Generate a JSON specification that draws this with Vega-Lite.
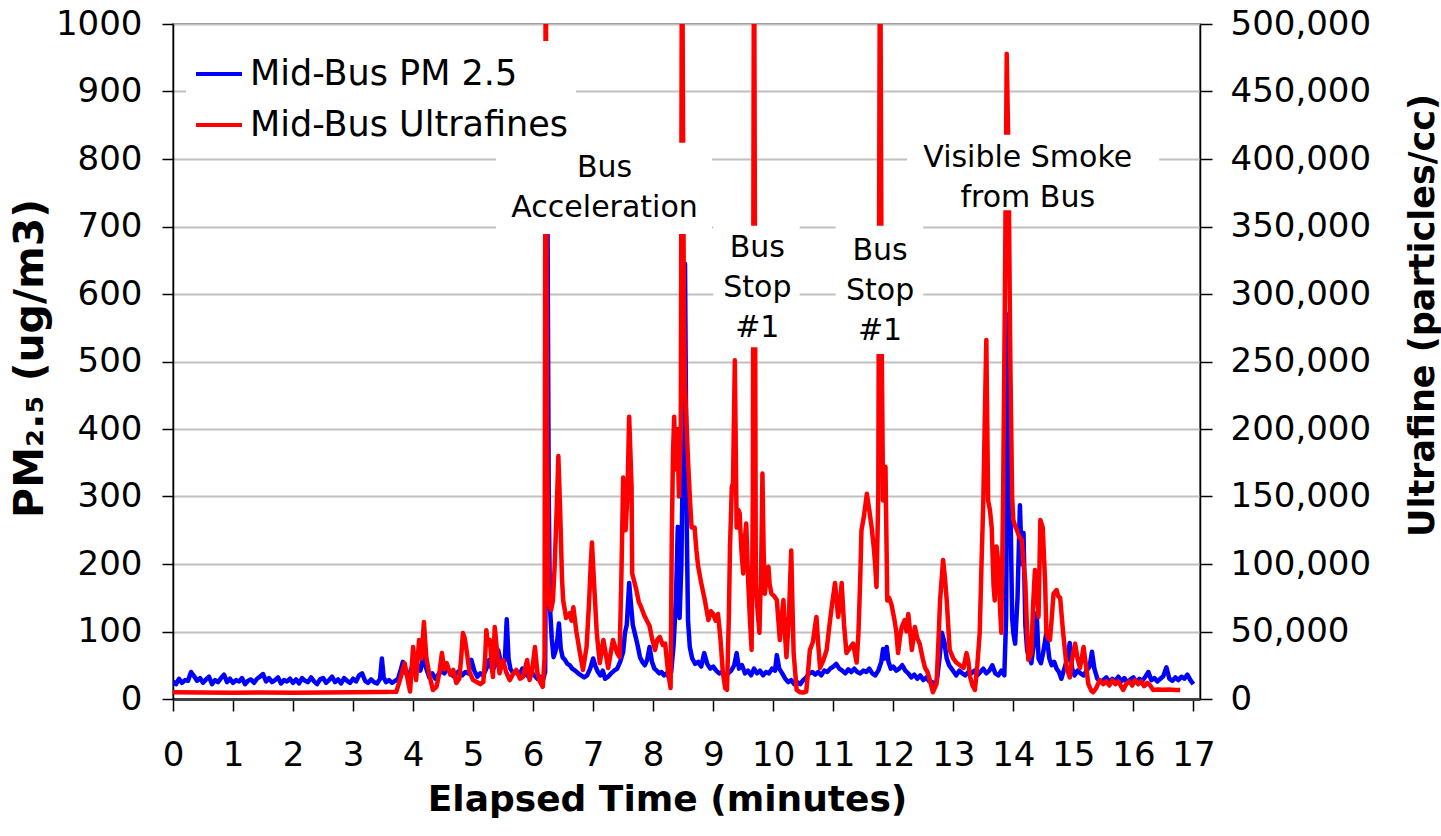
{
  "$schema": "https://vega.github.io/schema/vega-lite/v6.json",
  "width": 1027,
  "height": 675,
  "autosize": {"type": "none"},
  "padding": {"left": 173, "top": 24, "right": 241, "bottom": 137},
  "background": "white",
  "config": {
    "font": "DejaVu Sans",
    "view": {"stroke": "#808080", "strokeWidth": 2},
    "axis": {"labelFont": "DejaVu Sans", "titleFont": "DejaVu Sans", "labelColor": "black", "titleColor": "black"}
  },
  "datasets": {
    "pm": [
      {"t":0.00,"v":26},{"t":0.05,"v":22},{"t":0.10,"v":30},{"t":0.15,"v":24},{"t":0.20,"v":28},{"t":0.25,"v":27},{"t":0.30,"v":40},{"t":0.35,"v":34},{"t":0.40,"v":27},{"t":0.45,"v":31},
      {"t":0.50,"v":24},{"t":0.55,"v":29},{"t":0.60,"v":33},{"t":0.65,"v":22},{"t":0.70,"v":28},{"t":0.75,"v":25},{"t":0.80,"v":31},{"t":0.85,"v":36},{"t":0.90,"v":25},{"t":0.95,"v":30},
      {"t":1.00,"v":24},{"t":1.05,"v":28},{"t":1.10,"v":26},{"t":1.15,"v":31},{"t":1.20,"v":22},{"t":1.25,"v":27},{"t":1.30,"v":29},{"t":1.35,"v":24},{"t":1.40,"v":30},{"t":1.45,"v":33},
      {"t":1.50,"v":37},{"t":1.55,"v":26},{"t":1.60,"v":31},{"t":1.65,"v":25},{"t":1.70,"v":28},{"t":1.75,"v":32},{"t":1.80,"v":23},{"t":1.85,"v":28},{"t":1.90,"v":26},{"t":1.95,"v":30},
      {"t":2.00,"v":24},{"t":2.05,"v":29},{"t":2.10,"v":23},{"t":2.15,"v":31},{"t":2.20,"v":27},{"t":2.25,"v":25},{"t":2.30,"v":32},{"t":2.35,"v":26},{"t":2.40,"v":22},{"t":2.45,"v":29},
      {"t":2.50,"v":31},{"t":2.55,"v":24},{"t":2.60,"v":28},{"t":2.65,"v":33},{"t":2.70,"v":25},{"t":2.75,"v":29},{"t":2.80,"v":23},{"t":2.85,"v":31},{"t":2.90,"v":27},{"t":2.95,"v":24},
      {"t":3.00,"v":30},{"t":3.05,"v":26},{"t":3.10,"v":35},{"t":3.15,"v":38},{"t":3.20,"v":27},{"t":3.25,"v":24},{"t":3.30,"v":29},{"t":3.35,"v":25},{"t":3.40,"v":23},{"t":3.45,"v":30},
      {"t":3.48,"v":60},{"t":3.51,"v":32},{"t":3.55,"v":25},{"t":3.60,"v":28},{"t":3.65,"v":24},{"t":3.70,"v":27},
      {"t":3.75,"v":30},{"t":3.80,"v":45},{"t":3.83,"v":55},{"t":3.87,"v":40},{"t":3.92,"v":33},{"t":3.97,"v":45},{"t":4.02,"v":38},{"t":4.07,"v":50},{"t":4.12,"v":42},{"t":4.17,"v":62},
      {"t":4.22,"v":45},{"t":4.27,"v":32},{"t":4.32,"v":38},{"t":4.37,"v":30},{"t":4.42,"v":36},{"t":4.47,"v":42},{"t":4.52,"v":38},{"t":4.57,"v":45},{"t":4.62,"v":40},{"t":4.67,"v":34},
      {"t":4.72,"v":38},{"t":4.77,"v":42},{"t":4.82,"v":35},{"t":4.87,"v":40},{"t":4.92,"v":38},{"t":4.97,"v":58},{"t":5.02,"v":42},{"t":5.07,"v":33},{"t":5.12,"v":38},{"t":5.17,"v":35},
      {"t":5.22,"v":45},{"t":5.27,"v":58},{"t":5.32,"v":42},{"t":5.37,"v":50},{"t":5.42,"v":72},{"t":5.46,"v":55},{"t":5.50,"v":48},{"t":5.53,"v":60},{"t":5.56,"v":118},{"t":5.59,"v":60},
      {"t":5.62,"v":45},{"t":5.67,"v":38},{"t":5.72,"v":42},{"t":5.77,"v":35},{"t":5.82,"v":45},{"t":5.87,"v":38},{"t":5.92,"v":33},{"t":5.97,"v":40},{"t":6.02,"v":35},{"t":6.07,"v":30},
      {"t":6.12,"v":33},{"t":6.17,"v":30},{"t":6.20,"v":40},{"t":6.22,"v":400},{"t":6.24,"v":700},{"t":6.26,"v":300},{"t":6.28,"v":136},{"t":6.31,"v":90},{"t":6.34,"v":62},{"t":6.37,"v":70},
      {"t":6.40,"v":85},{"t":6.43,"v":112},{"t":6.46,"v":75},{"t":6.49,"v":62},{"t":6.53,"v":58},{"t":6.57,"v":52},{"t":6.61,"v":50},{"t":6.65,"v":45},{"t":6.70,"v":42},{"t":6.75,"v":38},
      {"t":6.80,"v":35},{"t":6.85,"v":32},{"t":6.90,"v":35},{"t":6.95,"v":45},{"t":7.00,"v":60},{"t":7.04,"v":48},{"t":7.08,"v":40},{"t":7.12,"v":35},{"t":7.16,"v":42},{"t":7.20,"v":30},
      {"t":7.25,"v":33},{"t":7.30,"v":38},{"t":7.35,"v":42},{"t":7.40,"v":45},{"t":7.45,"v":55},{"t":7.50,"v":70},{"t":7.53,"v":98},{"t":7.56,"v":110},{"t":7.60,"v":172},{"t":7.63,"v":140},
      {"t":7.66,"v":110},{"t":7.70,"v":95},{"t":7.74,"v":80},{"t":7.78,"v":62},{"t":7.82,"v":55},{"t":7.86,"v":50},{"t":7.90,"v":58},{"t":7.94,"v":77},{"t":7.98,"v":55},{"t":8.02,"v":45},
      {"t":8.06,"v":42},{"t":8.10,"v":38},{"t":8.14,"v":40},{"t":8.18,"v":35},{"t":8.22,"v":38},{"t":8.26,"v":33},{"t":8.30,"v":40},{"t":8.34,"v":80},{"t":8.38,"v":150},{"t":8.41,"v":255},
      {"t":8.44,"v":120},{"t":8.47,"v":200},{"t":8.50,"v":400},{"t":8.53,"v":645},{"t":8.56,"v":250},{"t":8.58,"v":117},{"t":8.61,"v":77},{"t":8.65,"v":60},{"t":8.70,"v":52},{"t":8.75,"v":55},
      {"t":8.80,"v":48},{"t":8.85,"v":68},{"t":8.90,"v":52},{"t":8.95,"v":45},{"t":9.00,"v":48},{"t":9.05,"v":42},{"t":9.10,"v":38},{"t":9.15,"v":40},{"t":9.20,"v":35},{"t":9.25,"v":38},
      {"t":9.30,"v":42},{"t":9.35,"v":50},{"t":9.39,"v":68},{"t":9.43,"v":45},{"t":9.48,"v":50},{"t":9.53,"v":38},{"t":9.58,"v":42},{"t":9.63,"v":35},{"t":9.68,"v":45},{"t":9.73,"v":38},
      {"t":9.78,"v":42},{"t":9.83,"v":35},{"t":9.88,"v":40},{"t":9.93,"v":38},{"t":9.98,"v":45},{"t":10.03,"v":42},{"t":10.06,"v":65},{"t":10.10,"v":45},{"t":10.15,"v":38},{"t":10.20,"v":30},
      {"t":10.25,"v":25},{"t":10.30,"v":28},{"t":10.35,"v":22},{"t":10.40,"v":25},{"t":10.45,"v":22},{"t":10.50,"v":28},{"t":10.55,"v":32},{"t":10.60,"v":38},{"t":10.65,"v":40},{"t":10.70,"v":36},
      {"t":10.75,"v":40},{"t":10.80,"v":35},{"t":10.85,"v":42},{"t":10.90,"v":40},{"t":10.95,"v":45},{"t":11.00,"v":48},{"t":11.05,"v":52},{"t":11.10,"v":45},{"t":11.15,"v":42},{"t":11.20,"v":38},
      {"t":11.25,"v":44},{"t":11.30,"v":40},{"t":11.35,"v":45},{"t":11.40,"v":40},{"t":11.45,"v":38},{"t":11.50,"v":42},{"t":11.55,"v":40},{"t":11.60,"v":45},{"t":11.65,"v":38},{"t":11.70,"v":35},
      {"t":11.75,"v":42},{"t":11.80,"v":55},{"t":11.83,"v":74},{"t":11.86,"v":60},{"t":11.89,"v":77},{"t":11.92,"v":55},{"t":11.96,"v":45},{"t":12.00,"v":48},{"t":12.05,"v":42},{"t":12.10,"v":45},
      {"t":12.15,"v":50},{"t":12.20,"v":42},{"t":12.25,"v":38},{"t":12.30,"v":32},{"t":12.35,"v":36},{"t":12.40,"v":30},{"t":12.45,"v":35},{"t":12.50,"v":28},{"t":12.55,"v":32},{"t":12.60,"v":26},
      {"t":12.65,"v":25},{"t":12.70,"v":20},{"t":12.73,"v":30},{"t":12.77,"v":60},{"t":12.81,"v":98},{"t":12.85,"v":85},{"t":12.89,"v":60},{"t":12.93,"v":50},{"t":12.97,"v":45},{"t":13.01,"v":40},
      {"t":13.05,"v":35},{"t":13.10,"v":42},{"t":13.15,"v":38},{"t":13.20,"v":35},{"t":13.25,"v":40},{"t":13.30,"v":38},{"t":13.35,"v":42},{"t":13.40,"v":35},{"t":13.45,"v":40},{"t":13.50,"v":45},
      {"t":13.55,"v":38},{"t":13.60,"v":42},{"t":13.65,"v":50},{"t":13.70,"v":38},{"t":13.75,"v":35},{"t":13.80,"v":42},{"t":13.85,"v":35},{"t":13.88,"v":120},{"t":13.90,"v":420},{"t":13.92,"v":570},
      {"t":13.95,"v":300},{"t":13.98,"v":120},{"t":14.00,"v":98},{"t":14.03,"v":82},{"t":14.07,"v":150},{"t":14.11,"v":287},{"t":14.14,"v":200},{"t":14.17,"v":246},{"t":14.20,"v":110},{"t":14.23,"v":72},
      {"t":14.27,"v":60},{"t":14.30,"v":53},{"t":14.34,"v":80},{"t":14.39,"v":127},{"t":14.42,"v":60},{"t":14.46,"v":53},{"t":14.50,"v":70},{"t":14.55,"v":98},{"t":14.60,"v":60},{"t":14.64,"v":50},
      {"t":14.68,"v":55},{"t":14.72,"v":45},{"t":14.76,"v":40},{"t":14.80,"v":30},{"t":14.85,"v":45},{"t":14.90,"v":60},{"t":14.94,"v":83},{"t":14.98,"v":45},{"t":15.02,"v":35},{"t":15.07,"v":42},
      {"t":15.12,"v":38},{"t":15.17,"v":35},{"t":15.22,"v":42},{"t":15.27,"v":48},{"t":15.31,"v":70},{"t":15.35,"v":45},{"t":15.40,"v":30},{"t":15.45,"v":25},{"t":15.50,"v":28},{"t":15.55,"v":32},
      {"t":15.60,"v":25},{"t":15.65,"v":30},{"t":15.70,"v":27},{"t":15.75,"v":33},{"t":15.80,"v":26},{"t":15.85,"v":31},{"t":15.90,"v":24},{"t":15.95,"v":29},{"t":16.00,"v":32},{"t":16.05,"v":25},
      {"t":16.10,"v":30},{"t":16.15,"v":27},{"t":16.20,"v":33},{"t":16.25,"v":40},{"t":16.30,"v":28},{"t":16.35,"v":31},{"t":16.40,"v":26},{"t":16.45,"v":30},{"t":16.50,"v":34},{"t":16.55,"v":47},
      {"t":16.60,"v":30},{"t":16.65,"v":27},{"t":16.70,"v":32},{"t":16.75,"v":28},{"t":16.80,"v":33},{"t":16.85,"v":30},{"t":16.90,"v":36},{"t":16.95,"v":28},{"t":17.00,"v":22}
    ],
    "uf": [
      {"t":0.00,"v":5000},{"t":0.50,"v":4800},{"t":1.00,"v":4700},{"t":1.50,"v":4800},{"t":2.00,"v":4700},{"t":2.50,"v":4900},{"t":3.00,"v":5000},{"t":3.50,"v":5100},{"t":3.72,"v":5300},
      {"t":3.78,"v":14000},{"t":3.86,"v":26600},{"t":3.92,"v":12000},{"t":3.95,"v":5500},{"t":4.00,"v":38500},{"t":4.05,"v":14000},{"t":4.10,"v":43700},{"t":4.14,"v":30000},{"t":4.18,"v":57000},{"t":4.22,"v":31000},
      {"t":4.27,"v":18000},{"t":4.33,"v":6700},{"t":4.39,"v":9000},{"t":4.44,"v":20000},{"t":4.48,"v":34000},{"t":4.52,"v":22000},{"t":4.56,"v":26600},{"t":4.62,"v":18000},{"t":4.67,"v":21500},{"t":4.72,"v":11800},
      {"t":4.77,"v":15000},{"t":4.80,"v":30000},{"t":4.83,"v":48900},{"t":4.86,"v":45000},{"t":4.89,"v":36300},{"t":4.94,"v":20000},{"t":5.00,"v":14000},{"t":5.06,"v":12600},{"t":5.12,"v":11000},{"t":5.17,"v":12600},
      {"t":5.20,"v":30000},{"t":5.22,"v":51000},{"t":5.25,"v":40000},{"t":5.28,"v":43700},{"t":5.31,"v":25000},{"t":5.33,"v":16300},{"t":5.36,"v":53300},{"t":5.40,"v":35000},{"t":5.44,"v":19000},{"t":5.50,"v":28900},
      {"t":5.55,"v":20000},{"t":5.61,"v":14000},{"t":5.66,"v":18000},{"t":5.72,"v":21500},{"t":5.78,"v":15000},{"t":5.83,"v":16300},{"t":5.90,"v":28900},{"t":5.94,"v":14000},{"t":5.98,"v":20000},{"t":6.03,"v":38500},
      {"t":6.07,"v":20000},{"t":6.10,"v":14000},{"t":6.16,"v":9000},{"t":6.19,"v":30000},{"t":6.21,"v":600000},{"t":6.23,"v":200000},{"t":6.26,"v":70000},{"t":6.30,"v":66000},{"t":6.33,"v":73000},{"t":6.36,"v":100000},
      {"t":6.40,"v":150000},{"t":6.42,"v":180000},{"t":6.45,"v":140000},{"t":6.48,"v":90000},{"t":6.50,"v":73000},{"t":6.55,"v":60000},{"t":6.61,"v":63700},{"t":6.64,"v":58000},{"t":6.67,"v":68000},{"t":6.72,"v":50000},
      {"t":6.78,"v":34000},{"t":6.83,"v":21500},{"t":6.89,"v":38500},{"t":6.93,"v":70000},{"t":6.96,"v":100000},{"t":6.98,"v":116000},{"t":7.01,"v":90000},{"t":7.06,"v":48900},{"t":7.11,"v":26600},{"t":7.17,"v":43700},
      {"t":7.25,"v":23000},{"t":7.33,"v":43700},{"t":7.40,"v":34000},{"t":7.44,"v":31000},{"t":7.47,"v":90400},{"t":7.50,"v":164000},{"t":7.54,"v":125000},{"t":7.57,"v":150000},{"t":7.60,"v":209000},{"t":7.64,"v":157000},
      {"t":7.65,"v":93000},{"t":7.72,"v":80700},{"t":7.76,"v":72000},{"t":7.80,"v":68000},{"t":7.85,"v":62000},{"t":7.89,"v":58500},{"t":7.94,"v":54000},{"t":7.98,"v":45000},{"t":8.03,"v":36300},{"t":8.07,"v":44000},
      {"t":8.11,"v":46000},{"t":8.16,"v":40000},{"t":8.20,"v":41000},{"t":8.25,"v":19000},{"t":8.29,"v":8100},{"t":8.31,"v":120000},{"t":8.33,"v":182000},{"t":8.35,"v":209000},{"t":8.37,"v":170000},{"t":8.40,"v":200000},
      {"t":8.43,"v":150000},{"t":8.46,"v":200000},{"t":8.48,"v":600000},{"t":8.51,"v":300000},{"t":8.53,"v":230000},{"t":8.56,"v":200000},{"t":8.58,"v":177000},{"t":8.61,"v":150000},{"t":8.64,"v":127000},{"t":8.69,"v":127000},
      {"t":8.72,"v":110000},{"t":8.75,"v":98000},{"t":8.80,"v":86000},{"t":8.86,"v":73300},{"t":8.92,"v":58500},{"t":8.96,"v":65000},{"t":9.00,"v":63000},{"t":9.04,"v":58000},{"t":9.08,"v":63000},{"t":9.12,"v":45000},
      {"t":9.16,"v":20000},{"t":9.20,"v":8000},{"t":9.23,"v":6700},{"t":9.26,"v":60000},{"t":9.28,"v":113000},{"t":9.31,"v":157000},{"t":9.33,"v":160000},{"t":9.36,"v":251000},{"t":9.39,"v":127000},{"t":9.42,"v":140000},
      {"t":9.44,"v":137800},{"t":9.47,"v":110000},{"t":9.50,"v":93000},{"t":9.53,"v":120000},{"t":9.55,"v":130000},{"t":9.58,"v":90000},{"t":9.61,"v":60000},{"t":9.64,"v":36300},{"t":9.66,"v":150000},{"t":9.68,"v":600000},
      {"t":9.71,"v":83000},{"t":9.74,"v":65000},{"t":9.77,"v":49000},{"t":9.80,"v":100000},{"t":9.82,"v":167000},{"t":9.84,"v":110000},{"t":9.86,"v":78000},{"t":9.89,"v":90000},{"t":9.92,"v":98000},{"t":9.94,"v":85000},
      {"t":9.97,"v":78000},{"t":10.02,"v":76000},{"t":10.06,"v":73300},{"t":10.11,"v":43700},{"t":10.14,"v":60000},{"t":10.17,"v":73300},{"t":10.20,"v":45000},{"t":10.22,"v":31000},{"t":10.26,"v":60000},{"t":10.30,"v":110000},
      {"t":10.32,"v":70000},{"t":10.34,"v":34000},{"t":10.39,"v":6700},{"t":10.45,"v":5000},{"t":10.50,"v":4800},{"t":10.55,"v":5500},{"t":10.58,"v":20000},{"t":10.61,"v":36300},{"t":10.66,"v":42000},{"t":10.70,"v":55000},
      {"t":10.72,"v":60800},{"t":10.75,"v":40000},{"t":10.78,"v":23000},{"t":10.83,"v":28000},{"t":10.89,"v":36300},{"t":10.94,"v":56000},{"t":10.98,"v":70000},{"t":11.03,"v":86000},{"t":11.08,"v":60800},{"t":11.11,"v":70000},
      {"t":11.14,"v":86000},{"t":11.18,"v":55000},{"t":11.22,"v":34000},{"t":11.28,"v":38000},{"t":11.33,"v":41000},{"t":11.39,"v":27000},{"t":11.42,"v":49000},{"t":11.45,"v":90000},{"t":11.47,"v":125000},{"t":11.51,"v":135000},
      {"t":11.56,"v":152000},{"t":11.60,"v":140000},{"t":11.64,"v":127000},{"t":11.68,"v":110000},{"t":11.70,"v":98000},{"t":11.72,"v":83000},{"t":11.75,"v":150000},{"t":11.78,"v":600000},{"t":11.81,"v":250000},{"t":11.83,"v":147000},
      {"t":11.85,"v":160000},{"t":11.87,"v":172000},{"t":11.90,"v":73000},{"t":11.93,"v":75000},{"t":11.97,"v":70000},{"t":12.02,"v":58500},{"t":12.05,"v":50000},{"t":12.08,"v":34000},{"t":12.11,"v":45000},{"t":12.14,"v":53300},
      {"t":12.19,"v":58500},{"t":12.22,"v":50000},{"t":12.25,"v":63000},{"t":12.28,"v":50000},{"t":12.31,"v":36300},{"t":12.36,"v":53300},{"t":12.40,"v":45000},{"t":12.44,"v":41000},{"t":12.49,"v":30000},{"t":12.53,"v":23000},
      {"t":12.57,"v":20000},{"t":12.61,"v":14000},{"t":12.66,"v":5000},{"t":12.72,"v":11000},{"t":12.75,"v":40000},{"t":12.78,"v":73300},{"t":12.83,"v":103000},{"t":12.86,"v":90000},{"t":12.89,"v":73300},{"t":12.94,"v":36300},
      {"t":13.00,"v":30000},{"t":13.05,"v":27000},{"t":13.11,"v":25000},{"t":13.17,"v":23000},{"t":13.22,"v":34000},{"t":13.25,"v":28000},{"t":13.28,"v":16300},{"t":13.32,"v":10000},{"t":13.36,"v":6700},{"t":13.40,"v":25000},
      {"t":13.44,"v":49000},{"t":13.47,"v":100000},{"t":13.50,"v":147000},{"t":13.53,"v":220000},{"t":13.55,"v":266000},{"t":13.58,"v":147000},{"t":13.61,"v":140000},{"t":13.64,"v":127000},{"t":13.67,"v":85000},{"t":13.69,"v":73000},
      {"t":13.72,"v":113000},{"t":13.75,"v":100000},{"t":13.78,"v":66000},{"t":13.80,"v":49000},{"t":13.83,"v":150000},{"t":13.86,"v":300000},{"t":13.89,"v":478000},{"t":13.92,"v":400000},{"t":13.95,"v":250000},{"t":13.98,"v":150000},
      {"t":14.00,"v":132600},{"t":14.03,"v":128000},{"t":14.06,"v":125000},{"t":14.10,"v":120000},{"t":14.14,"v":118000},{"t":14.17,"v":100000},{"t":14.20,"v":86000},{"t":14.23,"v":50000},{"t":14.25,"v":29000},{"t":14.30,"v":34000},
      {"t":14.33,"v":70000},{"t":14.36,"v":95500},{"t":14.39,"v":80000},{"t":14.42,"v":60800},{"t":14.45,"v":132600},{"t":14.49,"v":127000},{"t":14.53,"v":86000},{"t":14.55,"v":49000},{"t":14.58,"v":45000},{"t":14.61,"v":43700},
      {"t":14.64,"v":60000},{"t":14.67,"v":78000},{"t":14.72,"v":80700},{"t":14.75,"v":76000},{"t":14.78,"v":75000},{"t":14.83,"v":49000},{"t":14.89,"v":23000},{"t":14.94,"v":16000},{"t":14.98,"v":30000},{"t":15.03,"v":41000},
      {"t":15.07,"v":30000},{"t":15.11,"v":23000},{"t":15.14,"v":30000},{"t":15.17,"v":38500},{"t":15.21,"v":25000},{"t":15.25,"v":11000},{"t":15.30,"v":6000},{"t":15.33,"v":5000},{"t":15.38,"v":8000},{"t":15.44,"v":14000},
      {"t":15.50,"v":11000},{"t":15.55,"v":13000},{"t":15.60,"v":10000},{"t":15.65,"v":14000},{"t":15.70,"v":11000},{"t":15.75,"v":13000},{"t":15.80,"v":9000},{"t":15.83,"v":6700},{"t":15.88,"v":11000},{"t":15.93,"v":13000},
      {"t":15.98,"v":10000},{"t":16.03,"v":14000},{"t":16.08,"v":11000},{"t":16.13,"v":13000},{"t":16.18,"v":9500},{"t":16.23,"v":12000},{"t":16.28,"v":10000},{"t":16.33,"v":6700},{"t":16.40,"v":7000},{"t":16.50,"v":6800},
      {"t":16.60,"v":7000},{"t":16.70,"v":6700},{"t":16.78,"v":6700}
    ],
    "boxes": [
      {"t1":5.38,"t2":8.98,"y1":689,"y2":824},
      {"t1":9.0,"t2":10.44,"y1":521,"y2":701},
      {"t1":11.04,"t2":12.5,"y1":511,"y2":701},
      {"t1":12.23,"t2":16.43,"y1":724,"y2":836}
    ],
    "notes": [
      {"t":7.19,"y":787,"label":"Bus\nAcceleration"},
      {"t":9.735,"y":668,"label":"Bus\nStop\n#1"},
      {"t":11.78,"y":663,"label":"Bus\nStop\n#1"},
      {"t":14.24,"y":802,"label":"Visible Smoke\nfrom Bus"}
    ]
  },
  "layer": [
    {
      "data": {"name": "pm"},
      "mark": {"type": "line", "strokeWidth": 4.5, "strokeJoin": "round", "clip": true},
      "encoding": {
        "x": {"field": "t", "type": "quantitative", "scale": {"domain": [0, 17.11], "nice": false, "zero": false},
          "axis": {"values": [0,1,2,3,4,5,6,7,8,9,10,11,12,13,14,15,16,17], "format": "d", "labelOverlap": false, "labelFlush": false, "grid": false, "labelFontSize": 34, "labelPadding": 27,
            "tickSize": 12, "tickColor": "black", "tickWidth": 1.5, "domainColor": "#404040", "domainWidth": 3,
            "title": "Elapsed Time (minutes)", "titleFontSize": 36, "titleFontWeight": "bold", "titleX": 494, "titleY": 111, "titleBaseline": "alphabetic", "titleAlign": "center", "titleAnchor": null}},
        "y": {"field": "v", "type": "quantitative", "scale": {"domain": [0, 1000], "nice": false},
          "axis": {"orient": "left", "values": [0,100,200,300,400,500,600,700,800,900,1000], "format": "d", "labelOverlap": false, "grid": true, "gridColor": "#c0c0c0", "gridWidth": 2,
            "labelFontSize": 34, "labelPadding": 20, "tickSize": 11, "tickColor": "black", "tickWidth": 1.5, "domainColor": "black", "domainWidth": 1.5,
            "title": "PM₂.₅ (ug/m3)", "titleFontSize": 41, "titleFontWeight": "bold", "titleAngle": 270, "titleX": -143, "titleY": 334, "titleBaseline": "middle", "titleAlign": "center"}},
        "color": {"datum": "Mid-Bus PM 2.5", "type": "nominal",
          "scale": {"domain": ["Mid-Bus PM 2.5", "Mid-Bus Ultrafines"], "range": ["#0000ff", "#ff0000"]},
          "legend": {"title": null, "orient": "none", "legendX": 13, "legendY": 17, "fillColor": "white", "padding": 8, "labelLimit": 500,
            "labelFontSize": 35, "labelFont": "DejaVu Sans", "labelColor": "black", "symbolType": "stroke", "symbolStrokeWidth": 4, "symbolSize": 2116, "labelOffset": 6, "rowPadding": 8}}
      }
    },
    {
      "data": {"name": "uf"},
      "mark": {"type": "line", "strokeWidth": 4.5, "strokeJoin": "round", "clip": true},
      "encoding": {
        "x": {"field": "t", "type": "quantitative",
          "axis": {"values": [0,1,2,3,4,5,6,7,8,9,10,11,12,13,14,15,16,17], "format": "d", "labelOverlap": false, "labelFlush": false, "grid": false, "labelFontSize": 34, "labelPadding": 27,
            "tickSize": 12, "tickColor": "black", "tickWidth": 1.5, "domainColor": "#404040", "domainWidth": 3,
            "title": "Elapsed Time (minutes)", "titleFontSize": 36, "titleFontWeight": "bold", "titleX": 494, "titleY": 111, "titleBaseline": "alphabetic", "titleAlign": "center", "titleAnchor": null}},
        "y": {"field": "v", "type": "quantitative", "scale": {"domain": [0, 500000], "nice": false},
          "axis": {"orient": "right", "values": [0,50000,100000,150000,200000,250000,300000,350000,400000,450000,500000], "format": ",d", "labelOverlap": false, "grid": false,
            "labelFontSize": 34, "labelPadding": 18, "tickSize": 12, "tickColor": "black", "tickWidth": 1.5, "domainColor": "black", "domainWidth": 1.5,
            "title": "Ultrafine (particles/cc)", "titleFontSize": 35, "titleFontWeight": "bold", "titleAngle": 270, "titleX": 222, "titleY": 291, "titleBaseline": "middle", "titleAlign": "center"}},
        "color": {"datum": "Mid-Bus Ultrafines", "type": "nominal"}
      }
    },
    {
      "data": {"name": "boxes"},
      "mark": {"type": "rect", "fill": "white", "clip": true},
      "encoding": {
        "x": {"field": "t1", "type": "quantitative"},
        "x2": {"field": "t2"},
        "y": {"field": "y1", "type": "quantitative", "scale": {"domain": [0, 1000], "nice": false}, "axis": null},
        "y2": {"field": "y2"}
      }
    },
    {
      "data": {"name": "notes"},
      "mark": {"type": "text", "fontSize": 30, "font": "DejaVu Sans", "color": "black", "lineBreak": "\n", "lineHeight": 40, "align": "center", "baseline": "middle"},
      "encoding": {
        "x": {"field": "t", "type": "quantitative"},
        "y": {"field": "y", "type": "quantitative", "scale": {"domain": [0, 1000], "nice": false}, "axis": null},
        "text": {"field": "label"}
      }
    }
  ],
  "resolve": {"scale": {"y": "independent"}}
}
